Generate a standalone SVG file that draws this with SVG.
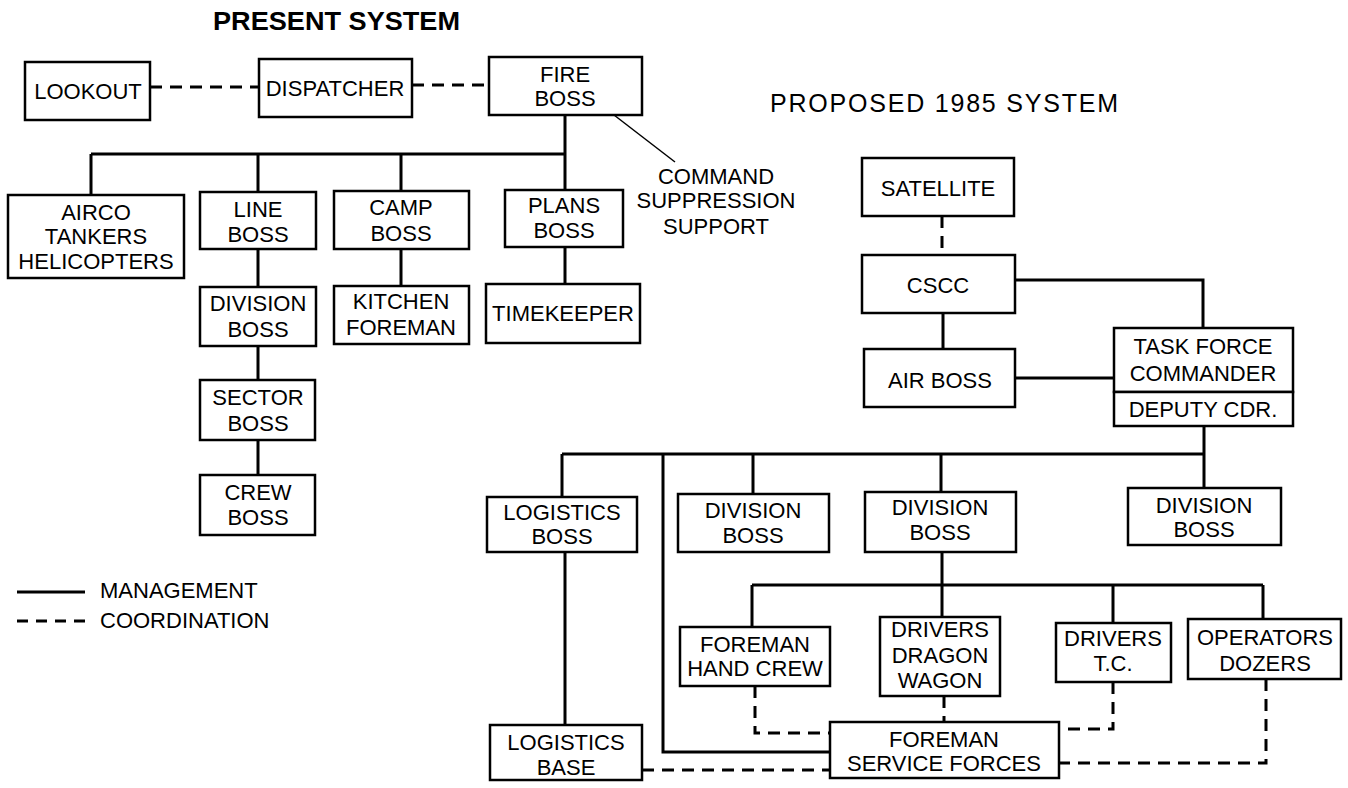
<svg xmlns="http://www.w3.org/2000/svg" width="1348" height="788" viewBox="0 0 1348 788">
<style>
.bx{fill:#fff;stroke:#000;stroke-width:2.5}
.t{font-family:"Liberation Sans",Arial,sans-serif;font-size:22px;text-anchor:middle;fill:#000}
.l{font-family:"Liberation Sans",Arial,sans-serif;font-size:22px;fill:#000}
.m{fill:none;stroke:#000;stroke-width:3}
.c{fill:none;stroke:#000;stroke-width:3;stroke-dasharray:12 8}
</style>
<rect width="1348" height="788" fill="#fff"/>
<text x="213" y="30" font-family="'Liberation Sans',Arial,sans-serif" font-size="26" font-weight="bold" textLength="247" lengthAdjust="spacingAndGlyphs">PRESENT SYSTEM</text>
<text x="770" y="112" font-family="'Liberation Sans',Arial,sans-serif" font-size="25" textLength="348" lengthAdjust="spacing">PROPOSED 1985 SYSTEM</text>
<g id="connectors">
<path class="c" d="M150 87H259M412 85H489"/>
<path class="m" d="M565 115V154M91 154H565M91 154V195M258 154V192M401 154V191M565 154V190M258 249V287M258 346V380M258 440V475M401 249V286M565 247V284"/>
<path d="M614 115L675 162" fill="none" stroke="#000" stroke-width="1.5"/>
<path class="c" d="M942 216V255"/>
<path class="m" d="M1015 280H1203V328M943 313V349M1015 378H1114M1204 426V488M562 454H1204M562 454V497M753 454V494M941 454V492M663 454V752H830M565 552V725M942 552V617M752 585H1263M752 585V627M1113 585V623M1263 585V619"/>
<path class="c" d="M755 686V733H830M944 696V722M1113 682V729H1059M1266 679V763H1059M642 770H830"/>
</g>
<g id="lookout"><rect class="bx" x="25" y="62" width="125" height="58"/><text class="t" x="88" y="99">LOOKOUT</text></g>
<g id="dispatcher"><rect class="bx" x="259" y="59" width="153" height="58"/><text class="t" x="335" y="96">DISPATCHER</text></g>
<g id="fireboss"><rect class="bx" x="489" y="57" width="153" height="58"/><text class="t" x="565" y="82">FIRE</text><text class="t" x="565" y="106">BOSS</text></g>
<g id="command-label"><text class="t" x="716" y="184">COMMAND</text><text class="t" x="716" y="208">SUPPRESSION</text><text class="t" x="716" y="234">SUPPORT</text></g>
<g id="airco"><rect class="bx" x="8" y="195" width="176" height="83"/><text class="t" x="96" y="220">AIRCO</text><text class="t" x="96" y="244">TANKERS</text><text class="t" x="96" y="269">HELICOPTERS</text></g>
<g id="lineboss"><rect class="bx" x="200" y="192" width="116" height="57"/><text class="t" x="258" y="217">LINE</text><text class="t" x="258" y="242">BOSS</text></g>
<g id="campboss"><rect class="bx" x="334" y="191" width="135" height="58"/><text class="t" x="401" y="215">CAMP</text><text class="t" x="401" y="241">BOSS</text></g>
<g id="plansboss"><rect class="bx" x="505" y="190" width="118" height="57"/><text class="t" x="564" y="213">PLANS</text><text class="t" x="564" y="238">BOSS</text></g>
<g id="divisionboss-p"><rect class="bx" x="200" y="287" width="116" height="59"/><text class="t" x="258" y="311">DIVISION</text><text class="t" x="258" y="337">BOSS</text></g>
<g id="kitchenforeman"><rect class="bx" x="334" y="286" width="135" height="58"/><text class="t" x="401" y="309">KITCHEN</text><text class="t" x="401" y="335">FOREMAN</text></g>
<g id="timekeeper"><rect class="bx" x="486" y="284" width="154" height="59"/><text class="t" x="563" y="321">TIMEKEEPER</text></g>
<g id="sectorboss"><rect class="bx" x="200" y="380" width="115" height="60"/><text class="t" x="258" y="405">SECTOR</text><text class="t" x="258" y="431">BOSS</text></g>
<g id="crewboss"><rect class="bx" x="200" y="475" width="115" height="60"/><text class="t" x="258" y="500">CREW</text><text class="t" x="258" y="525">BOSS</text></g>
<g id="legend"><path class="m" d="M17 592H85"/><path d="M17 621H85" fill="none" stroke="#000" stroke-width="3" stroke-dasharray="11 8"/><text class="l" x="100" y="598">MANAGEMENT</text><text class="l" x="100" y="628">COORDINATION</text></g>
<g id="satellite"><rect class="bx" x="862" y="158" width="152" height="58"/><text class="t" x="938" y="196">SATELLITE</text></g>
<g id="cscc"><rect class="bx" x="862" y="255" width="153" height="58"/><text class="t" x="938" y="293">CSCC</text></g>
<g id="airboss"><rect class="bx" x="864" y="349" width="151" height="58"/><text class="t" x="940" y="388">AIR BOSS</text></g>
<g id="taskforce"><rect class="bx" x="1114" y="328" width="179" height="64"/><text class="t" x="1203" y="354">TASK FORCE</text><text class="t" x="1203" y="381">COMMANDER</text><rect class="bx" x="1114" y="392" width="179" height="34"/><text class="t" x="1203" y="417">DEPUTY CDR.</text></g>
<g id="logisticsboss"><rect class="bx" x="487" y="497" width="150" height="55"/><text class="t" x="562" y="520">LOGISTICS</text><text class="t" x="562" y="544">BOSS</text></g>
<g id="division1"><rect class="bx" x="678" y="494" width="151" height="58"/><text class="t" x="753" y="518">DIVISION</text><text class="t" x="753" y="543">BOSS</text></g>
<g id="division2"><rect class="bx" x="865" y="492" width="151" height="60"/><text class="t" x="940" y="515">DIVISION</text><text class="t" x="940" y="540">BOSS</text></g>
<g id="division3"><rect class="bx" x="1128" y="488" width="153" height="57"/><text class="t" x="1204" y="513">DIVISION</text><text class="t" x="1204" y="537">BOSS</text></g>
<g id="foremanhandcrew"><rect class="bx" x="680" y="627" width="150" height="59"/><text class="t" x="755" y="652" font-size="21">FOREMAN</text><text class="t" x="755" y="676" font-size="21">HAND CREW</text></g>
<g id="driversdragon"><rect class="bx" x="880" y="617" width="120" height="79"/><text class="t" x="940" y="637">DRIVERS</text><text class="t" x="940" y="663">DRAGON</text><text class="t" x="940" y="688">WAGON</text></g>
<g id="driverstc"><rect class="bx" x="1056" y="623" width="115" height="59"/><text class="t" x="1113" y="646">DRIVERS</text><text class="t" x="1113" y="671">T.C.</text></g>
<g id="operatorsdozers"><rect class="bx" x="1188" y="619" width="153" height="60"/><text class="t" x="1265" y="645">OPERATORS</text><text class="t" x="1265" y="671">DOZERS</text></g>
<g id="foremanservice"><rect class="bx" x="830" y="722" width="229" height="56"/><text class="t" x="944" y="747">FOREMAN</text><text class="t" x="944" y="771">SERVICE FORCES</text></g>
<g id="logisticsbase"><rect class="bx" x="490" y="725" width="152" height="55"/><text class="t" x="566" y="750">LOGISTICS</text><text class="t" x="566" y="775">BASE</text></g>
</svg>
